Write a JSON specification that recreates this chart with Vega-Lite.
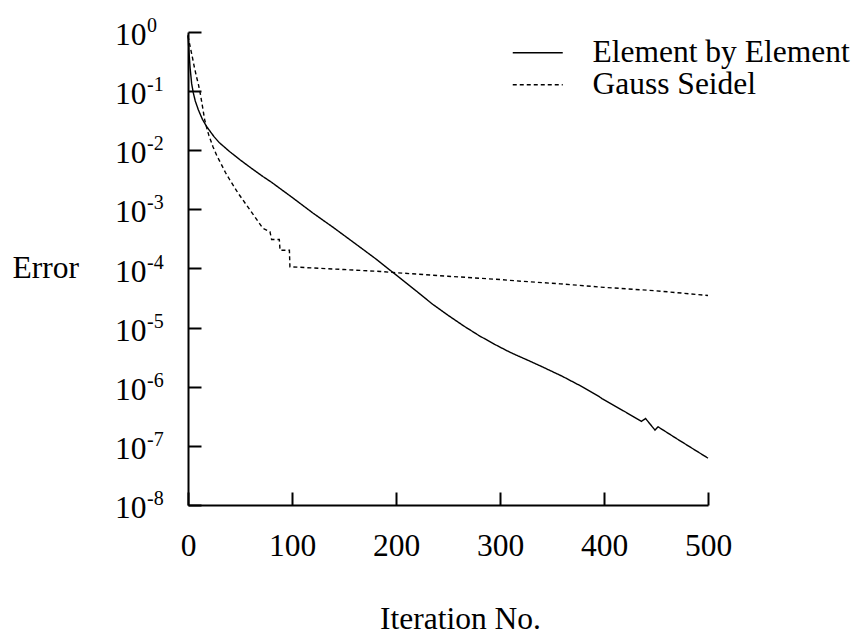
{
  "$schema": "https://vega.github.io/schema/vega-lite/v6.json",
  "width": 520,
  "height": 473,
  "autosize": "none",
  "padding": {"left": 188, "top": 32, "right": 150, "bottom": 131},
  "background": "white",
  "config": {
    "view": {"stroke": null},
    "font": "Liberation Serif",
    "axis": {"domainColor": "black", "tickColor": "black", "domainWidth": 2, "tickWidth": 2, "grid": false, "labelColor": "black", "titleColor": "black", "labelFont": "Liberation Serif", "titleFont": "Liberation Serif", "titleFontWeight": "normal", "labelFontSize": 31.5, "titleFontSize": 31.5}
  },
  "datasets": {
    "curves": [
      {"x": 0, "err": 0.9, "series": "Element by Element"},
      {"x": 1, "err": 0.45, "series": "Element by Element"},
      {"x": 2, "err": 0.25, "series": "Element by Element"},
      {"x": 3.5, "err": 0.135, "series": "Element by Element"},
      {"x": 5, "err": 0.095, "series": "Element by Element"},
      {"x": 7, "err": 0.068, "series": "Element by Element"},
      {"x": 10, "err": 0.048, "series": "Element by Element"},
      {"x": 14, "err": 0.033, "series": "Element by Element"},
      {"x": 18, "err": 0.025, "series": "Element by Element"},
      {"x": 25, "err": 0.017, "series": "Element by Element"},
      {"x": 30, "err": 0.0135, "series": "Element by Element"},
      {"x": 40, "err": 0.0095, "series": "Element by Element"},
      {"x": 50, "err": 0.0069, "series": "Element by Element"},
      {"x": 60, "err": 0.0051, "series": "Element by Element"},
      {"x": 72, "err": 0.0036, "series": "Element by Element"},
      {"x": 80, "err": 0.0029, "series": "Element by Element"},
      {"x": 100, "err": 0.0016, "series": "Element by Element"},
      {"x": 120, "err": 0.00087, "series": "Element by Element"},
      {"x": 140, "err": 0.00049, "series": "Element by Element"},
      {"x": 160, "err": 0.00027, "series": "Element by Element"},
      {"x": 180, "err": 0.000148, "series": "Element by Element"},
      {"x": 200, "err": 0.000078, "series": "Element by Element"},
      {"x": 220, "err": 0.000041, "series": "Element by Element"},
      {"x": 235, "err": 0.000025, "series": "Element by Element"},
      {"x": 250, "err": 0.0000162, "series": "Element by Element"},
      {"x": 265, "err": 0.0000107, "series": "Element by Element"},
      {"x": 280, "err": 0.0000073, "series": "Element by Element"},
      {"x": 295, "err": 0.0000052, "series": "Element by Element"},
      {"x": 310, "err": 0.0000038, "series": "Element by Element"},
      {"x": 325, "err": 0.0000029, "series": "Element by Element"},
      {"x": 340, "err": 0.0000022, "series": "Element by Element"},
      {"x": 360, "err": 0.0000015, "series": "Element by Element"},
      {"x": 380, "err": 0.00000098, "series": "Element by Element"},
      {"x": 395, "err": 0.00000069, "series": "Element by Element"},
      {"x": 398, "err": 0.00000063, "series": "Element by Element"},
      {"x": 420, "err": 0.00000038, "series": "Element by Element"},
      {"x": 436, "err": 0.00000026, "series": "Element by Element"},
      {"x": 440, "err": 0.00000029, "series": "Element by Element"},
      {"x": 449, "err": 0.000000185, "series": "Element by Element"},
      {"x": 452, "err": 0.00000021, "series": "Element by Element"},
      {"x": 470, "err": 0.000000132, "series": "Element by Element"},
      {"x": 500, "err": 0.000000062, "series": "Element by Element"},
      {"x": 0, "err": 0.85, "series": "Gauss Seidel"},
      {"x": 2, "err": 0.575, "series": "Gauss Seidel"},
      {"x": 4, "err": 0.39, "series": "Gauss Seidel"},
      {"x": 6, "err": 0.26, "series": "Gauss Seidel"},
      {"x": 8, "err": 0.18, "series": "Gauss Seidel"},
      {"x": 10, "err": 0.13, "series": "Gauss Seidel"},
      {"x": 12, "err": 0.087, "series": "Gauss Seidel"},
      {"x": 14, "err": 0.054, "series": "Gauss Seidel"},
      {"x": 16, "err": 0.033, "series": "Gauss Seidel"},
      {"x": 18, "err": 0.024, "series": "Gauss Seidel"},
      {"x": 20, "err": 0.018, "series": "Gauss Seidel"},
      {"x": 24, "err": 0.0115, "series": "Gauss Seidel"},
      {"x": 28, "err": 0.0079, "series": "Gauss Seidel"},
      {"x": 32, "err": 0.0058, "series": "Gauss Seidel"},
      {"x": 36, "err": 0.0042, "series": "Gauss Seidel"},
      {"x": 40, "err": 0.0032, "series": "Gauss Seidel"},
      {"x": 48, "err": 0.0019, "series": "Gauss Seidel"},
      {"x": 56, "err": 0.0012, "series": "Gauss Seidel"},
      {"x": 64, "err": 0.00076, "series": "Gauss Seidel"},
      {"x": 72, "err": 0.00048, "series": "Gauss Seidel"},
      {"x": 78.8, "err": 0.00042, "series": "Gauss Seidel"},
      {"x": 80.4, "err": 0.00031, "series": "Gauss Seidel"},
      {"x": 87.8, "err": 0.00031, "series": "Gauss Seidel"},
      {"x": 88.5, "err": 0.000204, "series": "Gauss Seidel"},
      {"x": 97.5, "err": 0.000204, "series": "Gauss Seidel"},
      {"x": 98, "err": 0.000107, "series": "Gauss Seidel"},
      {"x": 120, "err": 0.000102, "series": "Gauss Seidel"},
      {"x": 150, "err": 0.000096, "series": "Gauss Seidel"},
      {"x": 185, "err": 0.000089, "series": "Gauss Seidel"},
      {"x": 200, "err": 0.000085, "series": "Gauss Seidel"},
      {"x": 250, "err": 0.000074, "series": "Gauss Seidel"},
      {"x": 300, "err": 0.000065, "series": "Gauss Seidel"},
      {"x": 320, "err": 0.000061, "series": "Gauss Seidel"},
      {"x": 358, "err": 0.000055, "series": "Gauss Seidel"},
      {"x": 400, "err": 0.000048, "series": "Gauss Seidel"},
      {"x": 450, "err": 0.000042, "series": "Gauss Seidel"},
      {"x": 500, "err": 0.000035, "series": "Gauss Seidel"}
    ],
    "decades": [
      {"v": 1, "e": "0"},
      {"v": 0.1, "e": "-1"},
      {"v": 0.01, "e": "-2"},
      {"v": 0.001, "e": "-3"},
      {"v": 0.0001, "e": "-4"},
      {"v": 0.00001, "e": "-5"},
      {"v": 0.000001, "e": "-6"},
      {"v": 0.0000001, "e": "-7"},
      {"v": 0.00000001, "e": "-8"}
    ]
  },
  "layer": [
    {
      "data": {"name": "curves"},
      "mark": {"type": "line", "color": "black", "strokeWidth": 1.4},
      "encoding": {
        "x": {"field": "x", "type": "quantitative", "scale": {"domain": [0, 500], "nice": false},
          "axis": {"values": [0, 100, 200, 300, 400, 500], "tickSize": -13, "labelPadding": 38, "labelFlush": false, "title": "Iteration No.", "titleX": 272, "titleY": 123, "titleBaseline": "alphabetic", "titleAlign": "center"}},
        "y": {"field": "err", "type": "quantitative", "scale": {"type": "log", "domain": [0.00000001, 1], "nice": false},
          "axis": {"values": [1, 0.1, 0.01, 0.001, 0.0001, 0.00001, 0.000001, 0.0000001, 0.00000001], "labels": false, "tickSize": -13, "title": "Error", "titleAngle": 0, "titleAlign": "left", "titleBaseline": "alphabetic", "titleX": -176, "titleY": 245}},
        "strokeDash": {"field": "series", "type": "nominal",
          "scale": {"domain": ["Element by Element", "Gauss Seidel"], "range": [[1, 0], [4, 3]]},
          "legend": {"title": null, "orient": "none", "legendX": 334, "legendY": 5, "symbolType": "M-5,0H5", "symbolSize": 100, "symbolStrokeWidth": 1.4, "symbolStrokeColor": "black", "labelFont": "Liberation Serif", "labelFontSize": 31.5, "labelColor": "black", "labelOffset": 39, "rowPadding": -5, "labelLimit": 400}}
      }
    },
    {
      "data": {"name": "decades"},
      "mark": {"type": "text", "font": "Liberation Serif", "fontSize": 31.5, "align": "left", "baseline": "alphabetic", "dx": -73, "dy": 13, "color": "black"},
      "encoding": {
        "x": {"datum": 0},
        "y": {"field": "v", "type": "quantitative"},
        "text": {"value": "10"}
      }
    },
    {
      "data": {"name": "decades"},
      "mark": {"type": "text", "font": "Liberation Serif", "fontSize": 20, "align": "left", "baseline": "alphabetic", "dx": -41, "dy": 0, "color": "black"},
      "encoding": {
        "x": {"datum": 0},
        "y": {"field": "v", "type": "quantitative"},
        "text": {"field": "e"}
      }
    }
  ]
}
